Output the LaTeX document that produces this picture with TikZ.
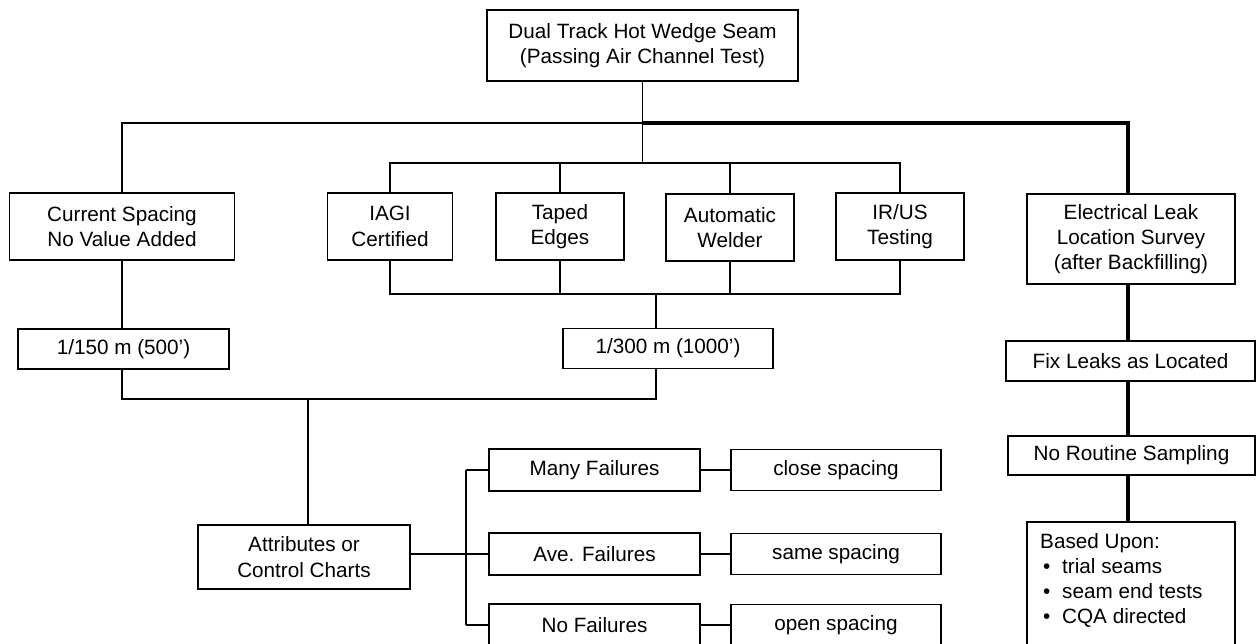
\documentclass[tikz,border=0pt]{standalone}
\usepackage{fontspec}
\setmainfont{Liberation Sans}
\begin{document}
\begin{tikzpicture}[x=1pt,y=-1pt,
  font=\fontsize{20.7}{25.3}\selectfont,
  box/.style={draw, line width=1.4pt, inner sep=0pt, align=center},
  conn/.style={line width=1.3pt},
  heavy/.style={line width=4pt}]
\useasboundingbox (0,0) rectangle (1256,643);
% boxes
\node[box, minimum width=311pt, minimum height=71pt] (top) at (642.5,45.5) {Dual Track Hot Wedge Seam\\(Passing Air Channel Test)};
\node[box, minimum width=225pt, minimum height=67pt] (cur) at (122,226.5) {Current Spacing\\No Value Added};
\node[box, minimum width=125pt, minimum height=67pt] (iagi) at (390,226.5) {IAGI\\Certified};
\node[box, minimum width=128pt, minimum height=67pt] (taped) at (560,226.5) {Taped\\Edges};
\node[box, minimum width=128pt, minimum height=67pt] (auto) at (730,227.5) {Automatic\\Welder};
\node[box, minimum width=128pt, minimum height=67pt] (irus) at (900,226.5) {IR/US\\Testing};
\node[box, minimum width=208pt, minimum height=90pt] (elec) at (1131,239) {Electrical Leak\\Location Survey\\(after Backfilling)};
\node[box, minimum width=211pt, minimum height=40pt] (b150) at (123.5,349) {1/150 m (500’)};
\node[box, minimum width=210pt, minimum height=40pt] (b300) at (668,348.5) {1/300 m (1000’)};
\node[box, minimum width=249pt, minimum height=40pt] (fix) at (1130.5,361) {Fix Leaks as Located};
\node[box, minimum width=247pt, minimum height=39pt] (norout) at (1131.5,455.5) {No Routine Sampling};
\node[box, minimum width=212pt, minimum height=64pt] (attr) at (304,557) {Attributes or\\Control Charts};
\node[box, minimum width=211pt, minimum height=42pt] (many) at (594.5,470) {Many Failures};
\node[box, minimum width=211pt, minimum height=42pt] (ave) at (594.5,554) {Ave. Failures};
\node[box, minimum width=211pt, minimum height=42pt] (nof) at (594.5,625) {No Failures};
\node[box, minimum width=210pt, minimum height=41pt] (close) at (836,470) {close spacing};
\node[box, minimum width=210pt, minimum height=41pt] (same) at (836,554) {same spacing};
\node[box, minimum width=210pt, minimum height=41pt] (open) at (836,625) {open spacing};
\node[box, minimum width=208pt, minimum height=140pt] (based) at (1131,592) {};
\node[anchor=base west, inner sep=0pt] (bu0) at (1040,548) {Based Upon:};
\node[anchor=base west, inner sep=0pt] (bu1) at (1043,573) {\makebox[19pt][l]{•}trial seams};
\node[anchor=base west, inner sep=0pt] (bu2) at (1043,598) {\makebox[19pt][l]{•}seam end tests};
\node[anchor=base west, inner sep=0pt] (bu3) at (1043,623) {\makebox[19pt][l]{•}CQA directed};
% junction coordinates
\coordinate (hA) at (642.5,123);
\coordinate (hL) at (122,123);
\coordinate (R) at (1128,123);
\coordinate (hM) at (642.5,163);
\coordinate (hB) at (656,294);
\coordinate (hC) at (308,399);
\coordinate (hD) at (466,554);
% thin connectors
\draw[conn] (top.south) -- (hM);
\draw[conn] (hA) -- (hL) -- (cur.north);
\draw[conn] (iagi.north) |- (hM) -| (irus.north);
\draw[conn] (taped.north) -- (taped.north |- hM);
\draw[conn] (auto.north) -- (auto.north |- hM);
\draw[conn] (iagi.south) |- (hB) -| (irus.south);
\draw[conn] (taped.south) -- (taped.south |- hB);
\draw[conn] (auto.south) -- (auto.south |- hB);
\draw[conn] (hB) -- (hB |- b300.north);
\draw[conn] (cur.south) -- (cur.south |- b150.north);
\draw[conn] (cur.south |- b150.south) |- (hC) -| (hB |- b300.south);
\draw[conn] (hC) -- (hC |- attr.north);
\draw[conn] (attr.east |- hD) -- (ave.west);
\draw[conn] (hD |- many.west) -- (hD |- nof.west);
\draw[conn] (hD |- many.west) -- (many.west);
\draw[conn] (hD |- nof.west) -- (nof.west);
\draw[conn] (many.east) -- (close.west);
\draw[conn] (ave.east) -- (same.west);
\draw[conn] (nof.east) -- (open.west);
% heavy connectors
\draw[heavy, line join=miter] (hA) -- (R) -- (R |- elec.north);
\draw[heavy] (R |- elec.south) -- (R |- fix.north);
\draw[heavy] (R |- fix.south) -- (R |- norout.north);
\draw[heavy] (R |- norout.south) -- (R |- based.north);
\end{tikzpicture}
\end{document}
